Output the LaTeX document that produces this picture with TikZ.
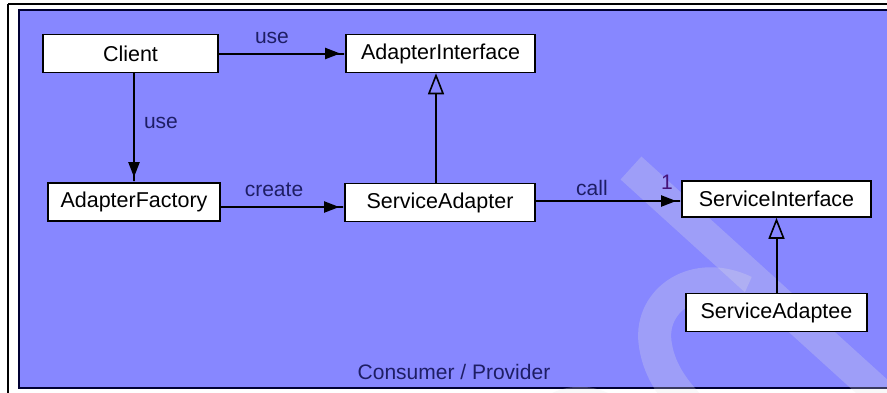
\documentclass[tikz,border=0pt]{standalone}
\usepackage{fontspec}
\setmainfont{Liberation Sans}
\usetikzlibrary{arrows.meta}
\definecolor{panelblue}{RGB}{135,135,255}
\definecolor{labelnavy}{RGB}{30,30,100}
\definecolor{onecol}{RGB}{70,20,120}
\begin{document}
\begin{tikzpicture}[x=1pt,y=-1pt,
  cls/.style={draw=black,line width=1.6pt,fill=white,inner sep=0pt,
    minimum height=38pt,font=\fontsize{21.5}{24}\selectfont},
  lbl/.style={text=labelnavy,inner sep=0pt,font=\fontsize{21}{24}\selectfont},
  usearrow/.style={line width=2pt,-{Triangle[length=15pt,width=11pt,sep=0pt]Rectangle[length=5pt,width=2pt]}},
  genarrow/.style={line width=2pt,-{Triangle[open,length=21pt,width=16pt,line width=1.6pt]}},
  wm/.style={draw=white!90!black,opacity=0.25,line width=31pt}]
\useasboundingbox (0,0) rectangle (887,392);
\fill[white] (0,0) rectangle (887,392);
\draw[black,line width=1.5pt] (8,4) -- (900,4);
\draw[black,line width=1.5pt] (8,4) -- (8,400);
\fill[panelblue] (19,10) rectangle (900,388);
\draw[black!80!blue,line width=2pt] (900,10) -- (19,10) -- (19,388) -- (900,388);
% watermark
\begin{scope}
\clip (0,0) rectangle (887,392);
\draw[wm] (631,168) -- (900,412);
\draw[wm,line width=33pt] (745,292) .. controls (695,268) and (650,300) .. (655,342)
   .. controls (658,368) and (672,388) .. (688,405);
\draw[wm,line width=24pt] (548,410) .. controls (565,395) and (595,395) .. (612,410);
\end{scope}
% classes
\node[cls,minimum width=175pt] (client) at (130.5,53.5) {Client};
\node[cls,minimum width=189pt] (ai) at (440.5,53.5) {AdapterInterface};
\node[cls,minimum width=172pt] (af) at (134,202) {AdapterFactory};
\node[cls,minimum width=190pt] (sa) at (440,202.5) {ServiceAdapter};
\node[cls,minimum width=189pt,minimum height=36pt] (si) at (776.5,199) {ServiceInterface};
\node[cls,minimum width=181pt] (sae) at (776.5,312.5) {ServiceAdaptee};
% connectors
\draw[usearrow] (client.east) -- (ai.west);
\draw[usearrow] (client.south -| af.north) -- (af.north);
\draw[usearrow] ([yshift=-5pt]af.east) -- ([yshift=-4.5pt]sa.west);
\draw[genarrow] ([xshift=-4pt]sa.north) -- ([xshift=-4pt]sa.north |- ai.south);
\draw[usearrow] ([yshift=1.5pt]sa.east) -- ([yshift=1.5pt]sa.east -| si.west);
\draw[genarrow] (sae.north) -- (sae.north |- si.south);
% labels
\node[lbl] (l1) at (272,38) {use};
\node[lbl] (l2) at (161,123) {use};
\node[lbl] (l3) at (274,190) {create};
\node[lbl] (l4) at (592,188) {call};
\node[lbl,text=onecol] (l5) at (667,182) {1};
\node[lbl] (l6) at (454,372) {Consumer / Provider};
\end{tikzpicture}
\end{document}
